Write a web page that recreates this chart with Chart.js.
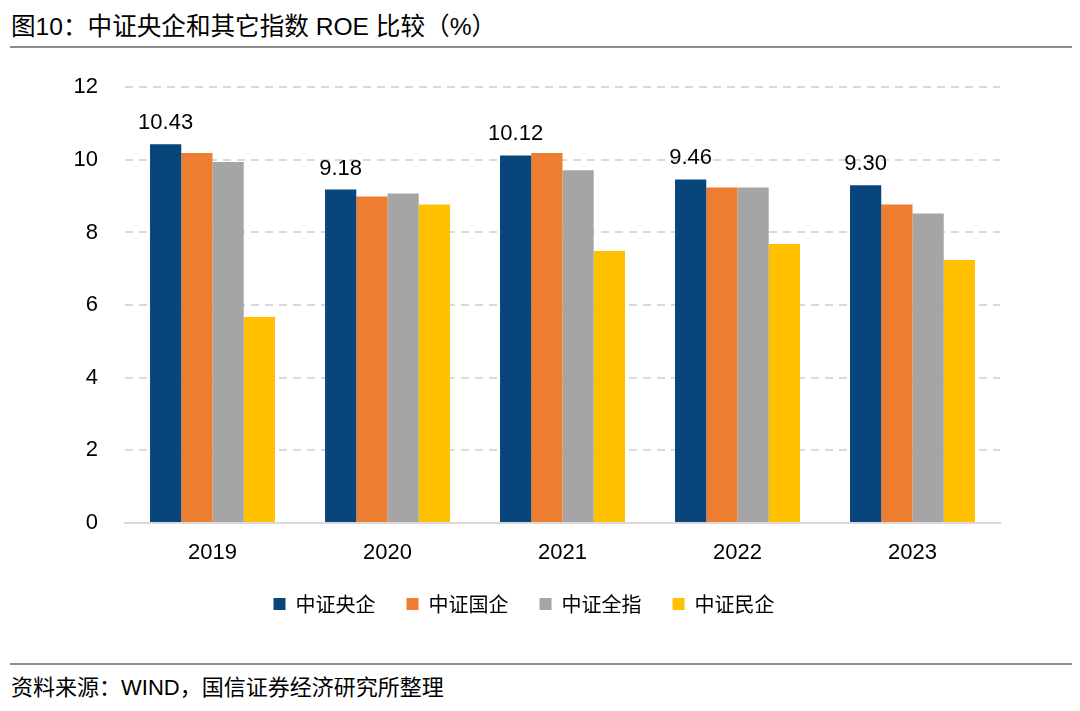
<!DOCTYPE html>
<html>
<head>
<meta charset="utf-8">
<script src="https://cdn.jsdelivr.net/npm/chart.js@4/dist/chart.umd.min.js"></script>
<style>
  body { margin: 0; background: #fff; width: 1080px; height: 711px; overflow: hidden; font-family: "Liberation Sans", "Noto Sans CJK SC", sans-serif; }
  .title { position: absolute; left: 11px; top: 12px; font-size: 24.6px; line-height: 30px; color: #000; }
  .rule { position: absolute; left: 10px; width: 1062px; height: 2px; background: #8c8c8c; }
  .source { position: absolute; left: 11px; top: 674px; font-size: 22px; line-height: 28px; color: #000; }
  .wrap { position: absolute; left: 0; top: 47px; width: 1080px; height: 585px; }
</style>
</head>
<body>
<div class="title">图10：中证央企和其它指数 ROE 比较（%）</div>
<div class="rule" style="top:46px"></div>
<div class="wrap"><canvas id="myChart"></canvas></div>
<div class="rule" style="top:663px"></div>
<div class="source">资料来源：WIND，国信证券经济研究所整理</div>

<script>
// 数据
var years = ['2019', '2020', '2021', '2022', '2023'];
var yangqi = [10.43, 9.18, 10.12, 9.46, 9.30];   // 中证央企
var guoqi = [10.19, 8.99, 10.19, 9.24, 8.77];    // 中证国企
var quanzhi = [9.94, 9.07, 9.71, 9.24, 8.52];    // 中证全指
var minqi = [5.67, 8.77, 7.49, 7.68, 7.24];      // 中证民企
var yTicks = [0, 2, 4, 6, 8, 10, 12];

var fontNum = "'Liberation Sans', Arial, sans-serif";

// 只给中证央企画数值标签
var valueLabels = {
  id: 'valueLabels',
  afterDatasetsDraw: function(chart) {
    var ctx = chart.ctx;
    var meta = chart.getDatasetMeta(0);
    ctx.save();
    ctx.font = '22px ' + fontNum;
    ctx.fillStyle = '#000';
    ctx.textAlign = 'center';
    ctx.textBaseline = 'alphabetic';
    meta.data.forEach(function(bar, i) {
      ctx.fillText(yangqi[i].toFixed(2), bar.x, bar.y - 15);
    });
    ctx.restore();
  }
};

var ctx = document.getElementById('myChart').getContext('2d');

new Chart(ctx, {
  type: 'bar',
  data: {
    labels: years,
    datasets: [
      { label: '中证央企', data: yangqi, backgroundColor: '#08457A' },
      { label: '中证国企', data: guoqi, backgroundColor: '#ED7D31' },
      { label: '中证全指', data: quanzhi, backgroundColor: '#A5A5A5' },
      { label: '中证民企', data: minqi, backgroundColor: '#FFC000' }
    ]
  },
  options: {
    responsive: true,
    maintainAspectRatio: false,
    animation: false,
    layout: { padding: { top: 12, right: 80, bottom: 8, left: 48 } },
    datasets: {
      bar: { categoryPercentage: 0.714, barPercentage: 1.0 }
    },
    plugins: {
      legend: {
        position: 'bottom',
        labels: {
          boxWidth: 12,
          boxHeight: 12,
          padding: 31,
          color: '#000',
          font: { size: 20, family: "'Noto Sans CJK SC', sans-serif" }
        }
      },
      tooltip: { enabled: false }
    },
    scales: {
      x: {
        grid: { display: false },
        border: { color: '#d9d9d9', width: 2 },
        ticks: { color: '#000', font: { size: 22, family: fontNum }, padding: 9 },
        afterFit: function(axis) { axis.height = 40; }
      },
      y: {
        min: 0,
        max: 12,
        afterBuildTicks: function(axis) {
          axis.ticks = yTicks.map(function(v) { return { value: v }; });
        },
        grid: { color: '#d9d9d9', lineWidth: 2, tickLength: 0 },
        border: { display: true, color: 'rgba(0,0,0,0)', width: 0, dash: [8, 6] },
        ticks: { color: '#000', font: { size: 22, family: fontNum }, padding: 27 },
        afterFit: function(axis) { axis.width = 77; }
      }
    }
  },
  plugins: [valueLabels]
});
</script>
</body>
</html>
